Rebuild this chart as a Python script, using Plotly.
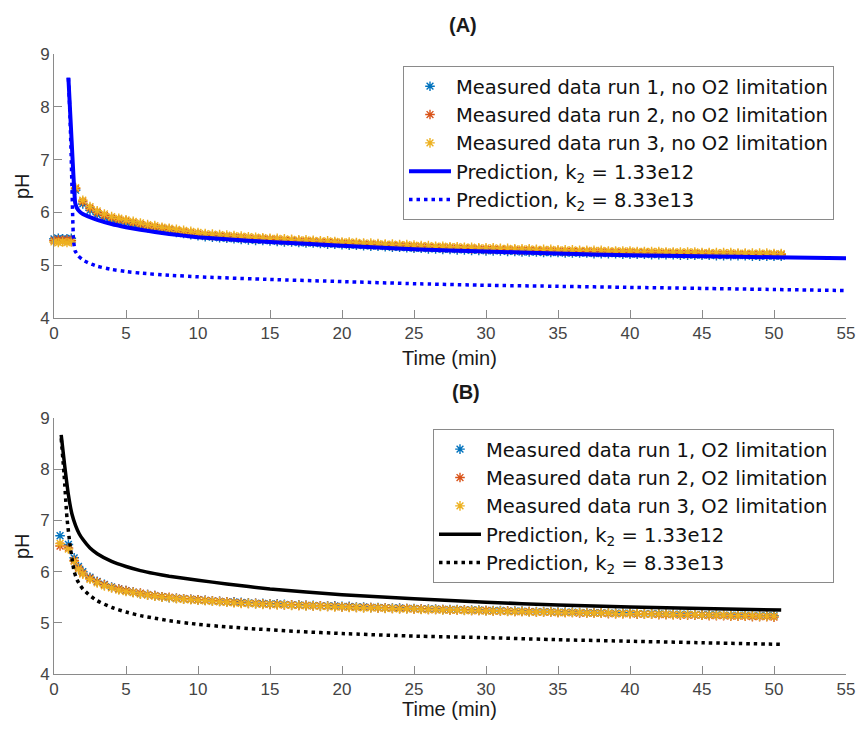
import plotly.graph_objects as go

# ---------------- data ----------------
# Panel A (no O2 limitation)
time_a = [0, 0.3, 0.6, 0.9, 1.2,
          1.5, 2, 2.5, 3, 3.5, 4, 4.5, 5, 5.5, 6, 6.5, 7, 7.5, 8, 8.5, 9, 9.5, 10,
          10.5, 11, 11.5, 12, 12.5, 13, 13.5, 14, 14.5, 15, 15.5, 16, 16.5, 17, 17.5, 18, 18.5, 19, 19.5, 20,
          20.5, 21, 21.5, 22, 22.5, 23, 23.5, 24, 24.5, 25, 25.5, 26, 26.5, 27, 27.5, 28, 28.5, 29, 29.5, 30,
          30.5, 31, 31.5, 32, 32.5, 33, 33.5, 34, 34.5, 35, 35.5, 36, 36.5, 37, 37.5, 38, 38.5, 39, 39.5, 40,
          40.5, 41, 41.5, 42, 42.5, 43, 43.5, 44, 44.5, 45, 45.5, 46, 46.5, 47, 47.5, 48, 48.5, 49, 49.5, 50, 50.5]

ph_a_run1 = [5.50, 5.51, 5.50, 5.50, 5.51,
             6.42, 6.16, 6.04, 5.96, 5.90, 5.86, 5.83, 5.80, 5.77, 5.74, 5.71, 5.69, 5.67, 5.65, 5.62, 5.60, 5.58, 5.56,
             5.54, 5.53, 5.52, 5.51, 5.50, 5.49, 5.48, 5.47, 5.47, 5.46, 5.45, 5.44, 5.44, 5.43, 5.42, 5.42, 5.41, 5.40, 5.40, 5.39,
             5.38, 5.38, 5.37, 5.36, 5.36, 5.35, 5.34, 5.34, 5.33, 5.32, 5.32, 5.31, 5.31, 5.30, 5.30, 5.29, 5.29, 5.28, 5.28, 5.27,
             5.27, 5.27, 5.26, 5.26, 5.25, 5.25, 5.25, 5.24, 5.24, 5.24, 5.23, 5.23, 5.23, 5.23, 5.22, 5.22, 5.22, 5.22, 5.21, 5.21,
             5.21, 5.21, 5.20, 5.20, 5.20, 5.20, 5.19, 5.19, 5.19, 5.19, 5.19, 5.18, 5.18, 5.18, 5.18, 5.18, 5.17, 5.17, 5.17, 5.17, 5.17]

ph_a_run2 = [5.47, 5.48, 5.47, 5.48, 5.47,
             6.45, 6.20, 6.08, 6.00, 5.94, 5.89, 5.86, 5.84, 5.80, 5.77, 5.74, 5.72, 5.70, 5.68, 5.65, 5.63, 5.61, 5.59,
             5.57, 5.56, 5.55, 5.54, 5.53, 5.52, 5.51, 5.50, 5.50, 5.49, 5.48, 5.47, 5.47, 5.46, 5.45, 5.45, 5.44, 5.43, 5.43, 5.42,
             5.41, 5.41, 5.40, 5.39, 5.39, 5.38, 5.37, 5.37, 5.36, 5.35, 5.35, 5.34, 5.34, 5.33, 5.33, 5.32, 5.32, 5.31, 5.31, 5.30,
             5.30, 5.30, 5.29, 5.29, 5.28, 5.28, 5.28, 5.27, 5.27, 5.27, 5.26, 5.26, 5.26, 5.26, 5.25, 5.25, 5.25, 5.25, 5.24, 5.24,
             5.24, 5.24, 5.23, 5.23, 5.23, 5.23, 5.22, 5.22, 5.22, 5.22, 5.22, 5.21, 5.21, 5.21, 5.21, 5.21, 5.20, 5.20, 5.20, 5.20, 5.20]

ph_a_run3 = [5.44, 5.43, 5.44, 5.43, 5.44,
             6.47, 6.23, 6.11, 6.03, 5.97, 5.92, 5.89, 5.86, 5.83, 5.80, 5.77, 5.75, 5.72, 5.70, 5.68, 5.66, 5.64, 5.62,
             5.60, 5.59, 5.58, 5.57, 5.56, 5.55, 5.54, 5.53, 5.52, 5.51, 5.51, 5.50, 5.49, 5.48, 5.48, 5.47, 5.46, 5.46, 5.45, 5.44,
             5.44, 5.43, 5.42, 5.42, 5.41, 5.40, 5.40, 5.39, 5.39, 5.38, 5.37, 5.37, 5.36, 5.36, 5.35, 5.35, 5.34, 5.34, 5.33, 5.33,
             5.33, 5.32, 5.32, 5.31, 5.31, 5.31, 5.30, 5.30, 5.30, 5.29, 5.29, 5.29, 5.28, 5.28, 5.28, 5.28, 5.27, 5.27, 5.27, 5.27,
             5.26, 5.26, 5.26, 5.26, 5.25, 5.25, 5.25, 5.25, 5.25, 5.24, 5.24, 5.24, 5.24, 5.24, 5.23, 5.23, 5.23, 5.23, 5.23, 5.22, 5.22]

pred_a_k1_t = [1.0, 1.15, 1.3, 1.4, 1.47, 1.6, 1.8, 2.0, 2.5, 3, 4, 5, 6, 7, 8, 9, 10, 12, 15, 20, 25, 30, 35, 40, 45, 50, 55]
pred_a_k1_ph = [8.55, 7.75, 6.95, 6.45, 6.18, 6.08, 6.01, 5.97, 5.91, 5.86, 5.78, 5.72, 5.67, 5.63, 5.59, 5.56, 5.53,
                5.49, 5.44, 5.37, 5.30, 5.26, 5.22, 5.19, 5.17, 5.15, 5.13]

pred_a_k2_t = [1.0, 1.1, 1.2, 1.3, 1.35, 1.45, 1.7, 2.0, 2.5, 3, 4, 5, 6, 8, 10, 15, 20, 25, 30, 35, 40, 45, 50, 55]
pred_a_k2_ph = [8.55, 7.9, 7.0, 5.9, 5.5, 5.28, 5.17, 5.10, 5.03, 4.98, 4.92, 4.88, 4.85, 4.81, 4.78,
                4.73, 4.69, 4.65, 4.62, 4.60, 4.58, 4.56, 4.54, 4.52]

# Panel B (O2 limitation)
time_b = [0.42, 1.0, 1.4, 1.7,
          2, 2.5, 3, 3.5, 4, 4.5, 5, 5.5, 6, 6.5, 7, 7.5, 8, 8.5, 9, 9.5, 10,
          10.5, 11, 11.5, 12, 12.5, 13, 13.5, 14, 14.5, 15, 15.5, 16, 16.5, 17, 17.5, 18, 18.5, 19, 19.5, 20,
          20.5, 21, 21.5, 22, 22.5, 23, 23.5, 24, 24.5, 25, 25.5, 26, 26.5, 27, 27.5, 28, 28.5, 29, 29.5, 30,
          30.5, 31, 31.5, 32, 32.5, 33, 33.5, 34, 34.5, 35, 35.5, 36, 36.5, 37, 37.5, 38, 38.5, 39, 39.5, 40,
          40.5, 41, 41.5, 42, 42.5, 43, 43.5, 44, 44.5, 45, 45.5, 46, 46.5, 47, 47.5, 48, 48.5, 49, 49.5, 50]

ph_b_run1 = [6.70, 6.53, 6.27, 6.10,
             6.00, 5.89, 5.81, 5.75, 5.70, 5.66, 5.63, 5.60, 5.57, 5.55, 5.53, 5.51, 5.49, 5.48, 5.47, 5.46, 5.45,
             5.44, 5.43, 5.42, 5.41, 5.41, 5.40, 5.39, 5.38, 5.38, 5.37, 5.37, 5.36, 5.35, 5.35, 5.34, 5.34, 5.33, 5.33, 5.33, 5.32,
             5.32, 5.31, 5.31, 5.30, 5.30, 5.29, 5.29, 5.29, 5.28, 5.28, 5.27, 5.27, 5.27, 5.26, 5.26, 5.26, 5.25, 5.25, 5.25, 5.24,
             5.24, 5.24, 5.23, 5.23, 5.23, 5.22, 5.22, 5.22, 5.22, 5.21, 5.21, 5.21, 5.20, 5.20, 5.20, 5.20, 5.19, 5.19, 5.19, 5.19,
             5.18, 5.18, 5.18, 5.18, 5.17, 5.17, 5.17, 5.17, 5.16, 5.16, 5.16, 5.16, 5.15, 5.15, 5.15, 5.15, 5.14, 5.14, 5.14, 5.14]

ph_b_run2 = [6.50, 6.46, 6.22, 6.07,
             5.97, 5.87, 5.80, 5.74, 5.69, 5.66, 5.63, 5.60, 5.58, 5.55, 5.53, 5.51, 5.50, 5.48, 5.47, 5.46, 5.45,
             5.44, 5.43, 5.42, 5.41, 5.40, 5.39, 5.38, 5.38, 5.37, 5.36, 5.36, 5.35, 5.35, 5.34, 5.34, 5.33, 5.33, 5.32, 5.32, 5.31,
             5.31, 5.30, 5.30, 5.30, 5.29, 5.29, 5.28, 5.28, 5.28, 5.27, 5.27, 5.26, 5.26, 5.26, 5.25, 5.25, 5.25, 5.24, 5.24, 5.24,
             5.23, 5.23, 5.23, 5.22, 5.22, 5.22, 5.21, 5.21, 5.21, 5.20, 5.20, 5.20, 5.19, 5.19, 5.19, 5.19, 5.18, 5.18, 5.18, 5.18,
             5.17, 5.17, 5.17, 5.16, 5.16, 5.16, 5.15, 5.15, 5.15, 5.15, 5.14, 5.14, 5.14, 5.13, 5.13, 5.13, 5.12, 5.12, 5.12, 5.11]

ph_b_run3 = [6.55, 6.44, 6.20, 6.05,
             5.95, 5.85, 5.78, 5.72, 5.68, 5.64, 5.61, 5.59, 5.56, 5.54, 5.52, 5.50, 5.49, 5.47, 5.46, 5.45, 5.44,
             5.43, 5.42, 5.41, 5.40, 5.39, 5.38, 5.38, 5.37, 5.36, 5.36, 5.35, 5.35, 5.34, 5.34, 5.33, 5.33, 5.32, 5.32, 5.31, 5.31,
             5.30, 5.30, 5.29, 5.29, 5.29, 5.28, 5.28, 5.27, 5.27, 5.27, 5.26, 5.26, 5.26, 5.25, 5.25, 5.25, 5.24, 5.24, 5.24, 5.23,
             5.23, 5.23, 5.22, 5.22, 5.22, 5.21, 5.21, 5.21, 5.21, 5.20, 5.20, 5.20, 5.20, 5.19, 5.19, 5.19, 5.19, 5.18, 5.18, 5.18,
             5.18, 5.17, 5.17, 5.17, 5.17, 5.16, 5.16, 5.16, 5.16, 5.15, 5.15, 5.15, 5.15, 5.14, 5.14, 5.14, 5.14, 5.13, 5.13, 5.13]

pred_b_k1_t = [0.5, 0.75, 1.0, 1.25, 1.5, 1.75, 2.0, 2.5, 3, 4, 5, 6, 7, 8, 10, 12, 15, 20, 25, 30, 35, 40, 45, 50.5]
pred_b_k1_ph = [8.67, 8.05, 7.5, 7.12, 6.9, 6.74, 6.63, 6.46, 6.35, 6.2, 6.1, 6.02, 5.96, 5.91, 5.83, 5.76,
                5.66, 5.55, 5.47, 5.40, 5.35, 5.31, 5.28, 5.25]

pred_b_k2_t = [0.5, 0.7, 0.9, 1.1, 1.25, 1.4, 1.6, 1.8, 2.0, 2.5, 3, 4, 5, 6, 7, 8, 10, 12, 14, 17, 20, 25, 30, 35, 40, 45, 50.5]
pred_b_k2_ph = [8.6, 7.9, 7.05, 6.55, 6.25, 6.0, 5.84, 5.74, 5.66, 5.53, 5.43, 5.3, 5.21, 5.14, 5.09, 5.04,
                4.97, 4.92, 4.88, 4.83, 4.79, 4.74, 4.71, 4.67, 4.64, 4.61, 4.58]

run_colors = ["#0072BD", "#D95319", "#EDB120"]
x_ticks = [0, 5, 10, 15, 20, 25, 30, 35, 40, 45, 50, 55]
y_ticks = [4, 5, 6, 7, 8, 9]

names_a = ["Measured data run 1, no O2 limitation",
           "Measured data run 2, no O2 limitation",
           "Measured data run 3, no O2 limitation"]
names_b = ["Measured data run 1, O2 limitation",
           "Measured data run 2, O2 limitation",
           "Measured data run 3, O2 limitation"]
pred_names = ["Prediction, k<sub>2</sub> = 1.33e12", "Prediction, k<sub>2</sub> = 8.33e13"]

# ---------------- figure ----------------
W, H = 856, 720
FONT = "Liberation Sans, Arial, Helvetica, sans-serif"
LEG_FONT = "DejaVu Sans, Liberation Sans, Arial, sans-serif"

def px_x(p):
    return p / W

def px_y(p):
    return 1 - p / H

fig = go.Figure()

def add_runs(t, runs, names, xa, ya, leg):
    for vals, name, col in zip(runs, names, run_colors):
        fig.add_trace(go.Scatter(
            x=t, y=vals, mode="markers", name=name, xaxis=xa, yaxis=ya, legend=leg,
            cliponaxis=False,
            marker=dict(symbol="asterisk-open", size=8, color=col,
                        line=dict(color=col, width=1.4))))

add_runs(time_a, [ph_a_run1, ph_a_run2, ph_a_run3], names_a, "x", "y", "legend")
fig.add_trace(go.Scatter(x=pred_a_k1_t, y=pred_a_k1_ph, mode="lines", name=pred_names[0],
                         xaxis="x", yaxis="y", legend="legend",
                         line=dict(color="#0000FF", width=4, shape="spline", smoothing=0.4)))
fig.add_trace(go.Scatter(x=pred_a_k2_t, y=pred_a_k2_ph, mode="lines", name=pred_names[1],
                         xaxis="x", yaxis="y", legend="legend",
                         line=dict(color="#0000FF", width=3.5, dash="3.5px,4px", shape="spline", smoothing=0.4)))

add_runs(time_b, [ph_b_run1, ph_b_run2, ph_b_run3], names_b, "x2", "y2", "legend2")
fig.add_trace(go.Scatter(x=pred_b_k1_t, y=pred_b_k1_ph, mode="lines", name=pred_names[0],
                         xaxis="x2", yaxis="y2", legend="legend2",
                         line=dict(color="#000000", width=3.5, shape="spline", smoothing=0.4)))
fig.add_trace(go.Scatter(x=pred_b_k2_t, y=pred_b_k2_ph, mode="lines", name=pred_names[1],
                         xaxis="x2", yaxis="y2", legend="legend2",
                         line=dict(color="#000000", width=3.5, dash="3.5px,4px", shape="spline", smoothing=0.4)))

axis_common = dict(showline=True, linecolor="#8a8a8a", linewidth=1, ticks="inside",
                   ticklen=8, tickcolor="#8a8a8a", tickwidth=1, showgrid=False, zeroline=False,
                   automargin=False,
                   tickfont=dict(family=FONT, size=17, color="#444444"), fixedrange=True)

xdom = [px_x(54), px_x(846)]
ya_dom = [px_y(318), px_y(54)]
yb_dom = [px_y(674), px_y(418)]

legend_common = dict(bgcolor="white", bordercolor="#8a8a8a", borderwidth=1,
                     font=dict(family=LEG_FONT, size=19.5, color="#111111"),
                     itemwidth=42, tracegroupgap=0, xanchor="right", yanchor="top",
                     itemclick=False, itemdoubleclick=False)

fig.update_layout(
    width=W, height=H, margin=dict(l=0, r=0, t=0, b=0, autoexpand=False),
    paper_bgcolor="white", plot_bgcolor="white", showlegend=True,
    font=dict(family=FONT),
    xaxis=dict(domain=xdom, range=[0, 55], tickvals=x_ticks, anchor="y", **axis_common),
    yaxis=dict(domain=ya_dom, range=[4, 9], tickvals=y_ticks, anchor="x", **axis_common),
    xaxis2=dict(domain=xdom, range=[0, 55], tickvals=x_ticks, anchor="y2", **axis_common),
    yaxis2=dict(domain=yb_dom, range=[4, 9], tickvals=y_ticks, anchor="x2", **axis_common),
    legend=dict(x=px_x(834), y=px_y(66), **legend_common),
    legend2=dict(x=px_x(834), y=px_y(429), **legend_common),
)

def ann(text, x, y, size, bold=False, angle=0):
    fig.add_annotation(text=("<b>%s</b>" % text) if bold else text,
                       x=px_x(x), y=px_y(y), xref="paper", yref="paper",
                       showarrow=False, textangle=angle, xanchor="center", yanchor="middle",
                       font=dict(family=FONT, size=size, color="#1a1a1a"))

ann("(A)", 463, 25, 20, bold=True)
ann("(B)", 466, 392, 20, bold=True)
ann("Time (min)", 449, 358, 20)
ann("Time (min)", 449, 709, 20)
ann("pH", 22, 186, 20, angle=-90)
ann("pH", 22, 546, 20, angle=-90)

fig.write_html("out.html")
